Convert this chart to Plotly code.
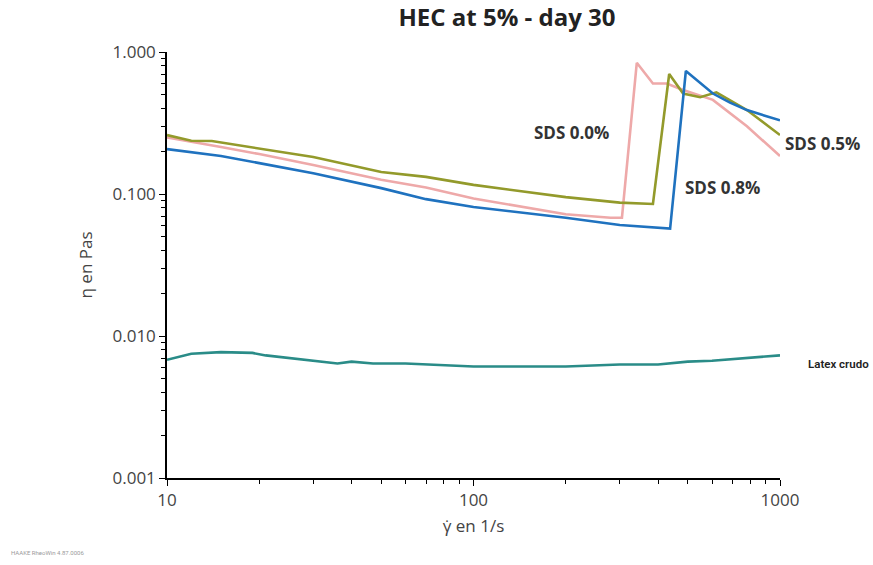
import plotly.graph_objects as go

# Shear rate (1/s) and viscosity (Pa·s) readings for each formulation
gamma_sds00 = [10, 12, 15, 20, 30, 50, 70, 100, 150, 200, 280, 305, 341, 385, 427, 483, 604, 780, 1000]
eta_sds00 = [0.25, 0.232, 0.214, 0.191, 0.16, 0.126, 0.111, 0.093, 0.08, 0.072, 0.068, 0.068, 0.84, 0.60, 0.60, 0.54, 0.46, 0.30, 0.185]

gamma_sds05 = [10, 12, 14, 20, 30, 50, 70, 100, 150, 200, 300, 385, 435, 483, 549, 620, 780, 1000]
eta_sds05 = [0.26, 0.237, 0.236, 0.208, 0.182, 0.143, 0.132, 0.116, 0.103, 0.095, 0.087, 0.085, 0.70, 0.51, 0.48, 0.52, 0.39, 0.26]

gamma_sds08 = [10, 15, 20, 30, 50, 70, 100, 150, 200, 300, 438, 493, 604, 687, 780, 1000]
eta_sds08 = [0.207, 0.185, 0.165, 0.14, 0.11, 0.092, 0.081, 0.073, 0.068, 0.0605, 0.057, 0.735, 0.51, 0.44, 0.39, 0.33]

gamma_latex = [10, 11, 12, 15, 19, 21, 25, 30, 36, 40, 47, 60, 100, 200, 300, 400, 500, 600, 700, 850, 1000]
eta_latex = [0.0068, 0.0072, 0.0075, 0.0077, 0.0076, 0.0073, 0.0070, 0.0067, 0.0064, 0.0066, 0.0064, 0.0064, 0.0061, 0.0061, 0.0063, 0.0063, 0.0066, 0.0067, 0.0069, 0.0071, 0.0073]

series_names = ["SDS 0.0%", "SDS 0.5%", "SDS 0.8%", "Latex crudo"]
series_colors = ["#eea9a9", "#939a2b", "#1f72bf", "#2a8c88"]

y_tick_vals = [0.001, 0.01, 0.1, 1]
y_tick_text = ["0.001", "0.010", "0.100", "1.000"]
x_tick_vals = [10, 100, 1000]
x_tick_text = ["10", "100", "1000"]

# Minor tick positions within each decade (2..9 x 10^k)
x_minor = [m * d for d in (10, 100) for m in range(2, 10)]
y_minor = [m * d for d in (0.001, 0.01, 0.1) for m in range(2, 10)]

fig = go.Figure()
for gx, ey, name, col in zip(
    [gamma_sds00, gamma_sds05, gamma_sds08, gamma_latex],
    [eta_sds00, eta_sds05, eta_sds08, eta_latex],
    series_names, series_colors,
):
    fig.add_trace(go.Scatter(x=gx, y=ey, mode="lines", name=name,
                             line=dict(color=col, width=2.6, shape="linear")))

label_font = dict(family="Open Sans", size=17, color="#333333")
# Series labels next to their curves
fig.add_annotation(x=2.321, y=-0.570, text="<b>SDS 0.0%</b>", showarrow=False, font=label_font)
fig.add_annotation(x=2.811, y=-0.951, text="<b>SDS 0.8%</b>", showarrow=False, font=label_font)
fig.add_annotation(x=1.070, y=0.786, xref="paper", yref="paper", text="<b>SDS 0.5%</b>",
                   showarrow=False, xanchor="center", yanchor="middle", font=label_font)
fig.add_annotation(x=1.042, y=0.268, xref="paper", yref="paper", text="Latex crudo",
                   showarrow=False, xanchor="left", yanchor="middle",
                   font=dict(family="Roboto", size=11.5, weight=600, color="#222222"))

# Software footer
fig.add_annotation(x=-0.258, y=-0.176, xref="paper", yref="paper", text="HAAKE RheoWin 4.87.0006",
                   showarrow=False, xanchor="left", yanchor="middle",
                   font=dict(family="Roboto", size=6, color="#9a9a9a"))

axis_font = dict(family="Open Sans", size=17, color="#444444")
fig.update_layout(
    width=873, height=565,
    margin=dict(l=167, r=93, t=52, b=87),
    paper_bgcolor="white", plot_bgcolor="white",
    showlegend=False,
    title=dict(text="<b>HEC at 5% - day 30</b>", x=507 / 873, xanchor="center", y=0.968, yanchor="middle",
               font=dict(family="Open Sans", size=24, color="#222222")),
    xaxis=dict(
        type="log", range=[1, 3], tickvals=x_tick_vals, ticktext=x_tick_text,
        showgrid=False, zeroline=False, showline=True, linecolor="black", linewidth=1.5,
        ticks="outside", ticklen=6, tickcolor="black", tickwidth=1.2,
        minor=dict(ticks="outside", ticklen=4, tickcolor="black", tickwidth=1,
                   tickvals=x_minor, showgrid=False),
        tickfont=axis_font,
        title=dict(text="γ̇ en 1/s", font=axis_font, standoff=10),
    ),
    yaxis=dict(
        type="log", range=[-3, 0], tickvals=y_tick_vals, ticktext=y_tick_text,
        showgrid=False, zeroline=False, showline=True, linecolor="black", linewidth=1.5,
        ticks="outside", ticklen=6, tickcolor="black", tickwidth=1.2,
        minor=dict(ticks="outside", ticklen=4, tickcolor="black", tickwidth=1,
                   tickvals=y_minor, showgrid=False),
        tickfont=axis_font,
        title=dict(text="η en Pas", font=axis_font, standoff=16),
    ),
)

fig.write_html("out.html")
